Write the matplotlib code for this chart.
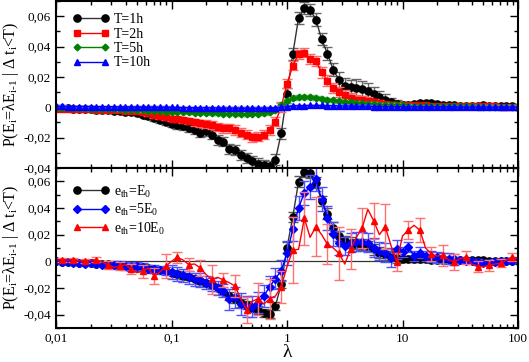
import numpy as np
import matplotlib
matplotlib.use("Agg")
import matplotlib.pyplot as plt
from matplotlib.ticker import FuncFormatter, MultipleLocator, LogLocator, NullFormatter

plt.rcParams['font.family'] = ['Liberation Serif', 'DejaVu Serif']
plt.rcParams['mathtext.fontset'] = 'custom'
plt.rcParams['mathtext.rm'] = 'Liberation Serif'

# bin centres in lambda (20 bins per decade, 0.01 .. 100)
lam = np.logspace(-2, 2, 81)

# ---- top panel: different T ----
t1h = [-0.0005, -0.0006, -0.0008, -0.0009, -0.001, -0.0012, -0.0013, -0.0015, -0.0017, -0.0019,
       -0.0022, -0.0025, -0.0028, -0.0033, -0.004, -0.0048, -0.006, -0.007, -0.0083, -0.0095,
       -0.0108, -0.0118, -0.0124, -0.0139, -0.015, -0.0167, -0.0158, -0.0182, -0.0215, -0.0226,
       -0.0274, -0.028, -0.0313, -0.0334, -0.0356, -0.0371, -0.0382, -0.0389, -0.0345, -0.0171,
       0.0089, 0.035, 0.0588, 0.0653, 0.0643, 0.0578, 0.0447, 0.0354, 0.0248, 0.018,
       0.0143, 0.0132, 0.0128, 0.0122, 0.011, 0.0089, 0.0067, 0.005, 0.0032, 0.002,
       0.0015, 0.0018, 0.002, 0.0025, 0.0028, 0.0025, 0.002, 0.0018, 0.0015, 0.0012,
       0.001, 0.0009, 0.0008, 0.001, 0.0012, 0.001, 0.0009, 0.0008, 0.0007, 0.0006, 0.0005]
t1h_err = [0.0005, 0.0005, 0.0005, 0.0006, 0.0006, 0.0007, 0.0007, 0.0008, 0.0008, 0.0009,
           0.001, 0.001, 0.0012, 0.0012, 0.0014, 0.0015, 0.0016, 0.0018, 0.002, 0.002,
           0.0022, 0.0024, 0.0025, 0.0026, 0.0028, 0.003, 0.003, 0.003, 0.0032, 0.0032,
           0.0033, 0.0033, 0.0034, 0.0035, 0.0035, 0.0035, 0.0035, 0.0035, 0.0035, 0.0035,
           0.0035, 0.004, 0.004, 0.004, 0.004, 0.004, 0.004, 0.0045, 0.0045, 0.005,
           0.005, 0.005, 0.0055, 0.005, 0.005, 0.0045, 0.004, 0.0035, 0.003, 0.0025,
           0.002, 0.002, 0.0018, 0.0016, 0.0015, 0.0014, 0.0012, 0.0011, 0.001, 0.001,
           0.0009, 0.0009, 0.0008, 0.0008, 0.0008, 0.0007, 0.0007, 0.0007, 0.0006, 0.0006, 0.0006]

t2h = [-0.001, -0.001, -0.0011, -0.0012, -0.0012, -0.0013, -0.0014, -0.0015, -0.0016, -0.0017,
       -0.0019, -0.002, -0.0022, -0.0024, -0.0027, -0.003, -0.0041, -0.0052, -0.0058, -0.0063,
       -0.0074, -0.008, -0.0085, -0.009, -0.0098, -0.0106, -0.011, -0.0117, -0.013, -0.0139,
       -0.0139, -0.015, -0.0167, -0.0182, -0.0197, -0.0193, -0.0182, -0.015, -0.0096, 0.0002,
       0.0154, 0.0274, 0.035, 0.036, 0.0317, 0.0306, 0.023, 0.0176, 0.0128, 0.01,
       0.0078, 0.0063, 0.005, 0.0046, 0.004, 0.0033, 0.0026, 0.002, 0.0018, 0.0016,
       0.0015, 0.0014, 0.0013, 0.0012, 0.0012, 0.0011, 0.001, 0.001, 0.0009, 0.0009,
       0.0008, 0.0008, 0.0007, 0.0007, 0.0006, 0.0006, 0.0006, 0.0005, 0.0005, 0.0005, 0.0005]
t2h_err = [0.0006, 0.0006, 0.0006, 0.0007, 0.0007, 0.0007, 0.0008, 0.0008, 0.0009, 0.0009,
           0.001, 0.001, 0.0011, 0.0012, 0.0013, 0.0014, 0.0015, 0.0016, 0.0017, 0.0018,
           0.0019, 0.002, 0.0021, 0.0022, 0.0023, 0.0024, 0.0025, 0.0026, 0.0027, 0.0028,
           0.0029, 0.003, 0.003, 0.003, 0.003, 0.003, 0.003, 0.003, 0.003, 0.003,
           0.003, 0.003, 0.003, 0.0032, 0.0032, 0.0033, 0.0034, 0.0034, 0.0035, 0.0035,
           0.0035, 0.0033, 0.003, 0.0028, 0.0025, 0.0022, 0.002, 0.0018, 0.0016, 0.0014,
           0.0013, 0.0012, 0.0011, 0.001, 0.001, 0.0009, 0.0009, 0.0008, 0.0008, 0.0007,
           0.0007, 0.0007, 0.0006, 0.0006, 0.0006, 0.0006, 0.0005, 0.0005, 0.0005, 0.0005, 0.0005]

t5h = [-0.0003, -0.0004, -0.0005, -0.0006, -0.0007, -0.0008, -0.0009, -0.001, -0.0011, -0.0012,
       -0.0013, -0.0014, -0.0015, -0.0016, -0.0018, -0.002, -0.0022, -0.0024, -0.0026, -0.0028,
       -0.003, -0.0031, -0.0032, -0.0034, -0.0035, -0.0036, -0.0038, -0.004, -0.0041, -0.0042,
       -0.0043, -0.0044, -0.0045, -0.0045, -0.0044, -0.0042, -0.0038, -0.003, -0.0015, 0.0015,
       0.004, 0.0058, 0.0066, 0.0069, 0.0068, 0.0062, 0.0057, 0.005, 0.0045, 0.004,
       0.0036, 0.0032, 0.0029, 0.0026, 0.0023, 0.002, 0.0018, 0.0016, 0.0014, 0.0013,
       0.0012, 0.0011, 0.001, 0.001, 0.0009, 0.0009, 0.0008, 0.0008, 0.0007, 0.0007,
       0.0006, 0.0006, 0.0006, 0.0005, 0.0005, 0.0005, 0.0004, 0.0004, 0.0004, 0.0004, 0.0004]
t5h_err = [0.0008] * 30 + [0.001] * 10 + [0.0012] * 20 + [0.0008] * 21

t10h = [0.0006, 0.0006, 0.0005, 0.0005, 0.0005, 0.0005, 0.0004, 0.0004, 0.0004, 0.0004,
        0.0003, 0.0003, 0.0003, 0.0002, 0.0002, 0.0002, 0.0001, 0.0001, 0.0, 0.0,
        -0.0001, -0.0001, -0.0002, -0.0002, -0.0003, -0.0003, -0.0004, -0.0004, -0.0005, -0.0005,
        -0.0006, -0.0006, -0.0006, -0.0007, -0.0007, -0.0007, -0.0006, -0.0005, -0.0003, 0.0,
        0.0004, 0.0008, 0.001, 0.0011, 0.0012, 0.0012, 0.0012, 0.0011, 0.001, 0.0009,
        0.0008, 0.0008, 0.0007, 0.0006, 0.0006, 0.0005, 0.0005, 0.0004, 0.0004, 0.0004,
        0.0003, 0.0003, 0.0003, 0.0003, 0.0003, 0.0003, 0.0003, 0.0003, 0.0003, 0.0003,
        0.0002, 0.0002, 0.0002, 0.0002, 0.0002, 0.0002, 0.0002, 0.0002, 0.0002, 0.0002, 0.0002]
t10h_err = [0.0006] * 81

# ---- bottom panel: different thresholds ----
e1 = [0.0, -0.0003, -0.0006, -0.0008, -0.001, -0.0012, -0.0015, -0.0018, -0.002, -0.0023,
      -0.0026, -0.003, -0.0033, -0.0037, -0.004, -0.0045, -0.005, -0.0056, -0.0062, -0.0075,
      -0.0085, -0.0095, -0.011, -0.012, -0.013, -0.015, -0.0165, -0.018, -0.02, -0.0227,
      -0.026, -0.028, -0.031, -0.033, -0.0347, -0.0367, -0.0385, -0.0392, -0.0334, -0.0172,
      0.0103, 0.0333, 0.0597, 0.0672, 0.0664, 0.059, 0.0452, 0.0358, 0.0252, 0.019,
      0.0153, 0.014, 0.0131, 0.0126, 0.0114, 0.009, 0.0065, 0.0052, 0.004, 0.0027,
      0.002, 0.0018, 0.0016, 0.0015, 0.0014, 0.0013, 0.0012, 0.0011, 0.001, 0.001,
      0.0009, 0.0008, 0.0008, 0.0007, 0.0007, 0.0006, 0.0006, 0.0005, 0.0005, 0.0005, 0.0005]
e1_err = [0.001] * 20 + [0.002] * 10 + [0.003] * 10 + [0.004] * 10 + [0.004] * 10 + [0.002] * 10 + [0.001] * 11

e5 = [0.0, -0.0005, -0.0008, -0.001, -0.0012, -0.0018, -0.0015, -0.002, -0.0025, -0.0028,
      -0.003, -0.0028, -0.0035, -0.004, -0.0033, -0.0045, -0.0055, -0.006, -0.0068, -0.0075,
      -0.008, -0.0095, -0.0105, -0.012, -0.0135, -0.014, -0.016, -0.0175, -0.02, -0.022,
      -0.0285, -0.027, -0.032, -0.034, -0.034, -0.031, -0.026, -0.019, -0.013, -0.007,
      0.006, 0.024, 0.04, 0.0515, 0.0557, 0.0614, 0.0465, 0.0327, 0.0202, 0.014,
      0.0115, 0.014, 0.0148, 0.0148, 0.014, 0.0103, 0.0078, 0.0065, 0.0028, 0.009,
      0.007, 0.0108, 0.004, 0.0065, 0.004, 0.0035, 0.003, 0.0025, 0.002, 0.0015,
      0.001, 0.0005, 0.0, -0.0005, -0.001, -0.001, -0.0005, 0.0, 0.0005, 0.0005, 0.001]
e5_err = [0.0015] * 10 + [0.003] * 10 + [0.005] * 10 + [0.008] * 10 + [0.009] * 10 + [0.007] * 10 + [0.004] * 10 + [0.002] * 11

e10 = [0.001, 0.0013, 0.0008, 0.0013, 0.0005, 0.0, 0.0008, 0.0013, -0.0005, -0.0025,
       -0.0045, -0.0037, -0.0025, -0.0057, -0.0085, -0.0075, -0.005, -0.0112, -0.008, -0.0037,
       0.0, 0.003, 0.001, -0.0025, -0.002, -0.005, -0.01, -0.0135, -0.012, -0.014,
       -0.016, -0.0185, -0.028, -0.0365, -0.03, -0.028, -0.032, -0.028, -0.026, -0.019,
       -0.004, 0.0085, 0.009, 0.0323, 0.018, 0.026, 0.02, 0.0128, 0.01, 0.006,
       -0.002, 0.009, 0.018, 0.025, 0.039, 0.0305, 0.02, 0.026, 0.012, -0.0006,
       0.019, 0.0235, 0.027, 0.0234, 0.01, 0.0055, 0.004, 0.0045, 0.001, -0.0003,
       0.002, 0.003, -0.002, -0.004, -0.004, -0.003, -0.002, -0.0015, 0.001, 0.0033, 0.002]
e10_err = [0.0, 0.0015, 0.0, 0.0015, 0.0, 0.0015, 0.0, 0.002, 0.0, 0.003,
           0.0, 0.003, 0.0, 0.004, 0.0, 0.005, 0.0, 0.006, 0.0, 0.009,
           0.0, 0.004, 0.0, 0.005, 0.0, 0.006, 0.0, 0.011, 0.0, 0.005,
           0.0, 0.008, 0.0, 0.01, 0.0, 0.012, 0.0, 0.015, 0.0, 0.012,
           0.0, 0.025, 0.0, 0.02, 0.0, 0.022, 0.0, 0.015, 0.0, 0.02,
           0.0, 0.015, 0.0, 0.015, 0.0, 0.0135, 0.0, 0.017, 0.0, 0.007,
           0.0, 0.007, 0.0, 0.009, 0.0, 0.005, 0.0, 0.008, 0.0, 0.006,
           0.0, 0.005, 0.0, 0.004, 0.0, 0.004, 0.0, 0.003, 0.0, 0.003, 0.0]

ylab = r'P(E$_\mathregular{i}$=λE$_\mathregular{i\text{-}1}$ | Δ t$_\mathregular{i}$<T)'


def yfmt(v, pos):
    if abs(v) < 1e-9:
        return '0'
    return ('%.2f' % v).replace('.', ',')


def xfmt(v, pos):
    return ('%g' % v).replace('.', ',')


def draw(ax, y, err, mc, lc, ec, mk, ms, lab, every=None):
    # error bars first, then the line+markers on top
    ax.errorbar(lam, y, yerr=err, fmt='none', ecolor=ec, elinewidth=1, capsize=3.5,
                errorevery=every if every else 1)
    ax.plot(lam, y, color=lc, lw=1, marker=mk, ms=ms, mfc=mc, mec=mc,
            markevery=every, label=lab)


fig = plt.figure(figsize=(5.29, 3.62), dpi=100)
ax1 = fig.add_axes([56 / 529, 1 - 168 / 362, 462 / 529, 167 / 362])
ax2 = fig.add_axes([56 / 529, 1 - 328 / 362, 462 / 529, 160 / 362])

# top
ax1.axhline(0, color='k', lw=0.8, zorder=1)
draw(ax1, t1h, t1h_err, 'k', '#333333', '#666666', 'o', 5.2, 'T=1h')
draw(ax1, t2h, t2h_err, 'red', 'red', '#ff6a6a', 's', 4.5, 'T=2h')
draw(ax1, t5h, t5h_err, 'green', 'green', '#6cb46c', 'D', 3.4, 'T=5h')
draw(ax1, t10h, t10h_err, 'blue', 'blue', '#6a6aff', '^', 4.2, 'T=10h')

# bottom
ax2.axhline(0, color='#333333', lw=0.9, zorder=1)
draw(ax2, e1, e1_err, 'k', '#333333', '#555555', 'o', 5.2, r'e$_\mathregular{th}$=E$_\mathregular{0}$')
draw(ax2, e5, e5_err, 'blue', 'blue', '#5050ff', 'D', 3.6, r'e$_\mathregular{th}$=5E$_\mathregular{0}$')
draw(ax2, e10, e10_err, 'red', 'red', '#ff7070', '^', 5, r'e$_\mathregular{th}$=10E$_\mathregular{0}$',
     every=(1, 2))

for ax, lo in ((ax1, -0.04), (ax2, -0.05)):
    ax.set_xscale('log')
    ax.set_xlim(0.01, 100)
    ax.set_ylim(lo, 0.07)
    ax.yaxis.set_major_locator(MultipleLocator(0.02))
    ax.yaxis.set_minor_locator(MultipleLocator(0.01))
    ax.yaxis.set_major_formatter(FuncFormatter(yfmt))
    ax.xaxis.set_major_locator(LogLocator(base=10, numticks=10))
    ax.xaxis.set_minor_locator(LogLocator(base=10, subs=np.arange(2, 10), numticks=10))
    ax.tick_params(which='both', direction='in', top=True, right=True, labelsize=9.5, width=1)
    ax.tick_params(which='major', length=6)
    ax.tick_params(which='minor', length=3)
    for s in ax.spines.values():
        s.set_linewidth(1.5)
    ax.set_ylabel(ylab, fontsize=11.5)
    ax.yaxis.set_label_coords(-0.076, 0.5)

ax1.legend(loc='upper left', bbox_to_anchor=(0.015, 0.985), frameon=False, fontsize=10,
           numpoints=2, handlelength=2.6, handletextpad=0.35, labelspacing=0.1,
           borderaxespad=0.3)
ax2.legend(loc='upper left', bbox_to_anchor=(0.015, 0.965), frameon=False, fontsize=10,
           numpoints=2, handlelength=2.6, handletextpad=0.35, labelspacing=0.15,
           borderaxespad=0.3)

ax1.xaxis.set_major_formatter(NullFormatter())
ax2.xaxis.set_major_formatter(FuncFormatter(xfmt))
ax2.set_xlabel('λ', fontsize=14)
ax2.xaxis.set_label_coords(0.5, -0.1)

fig.savefig('out.png', dpi=100)
